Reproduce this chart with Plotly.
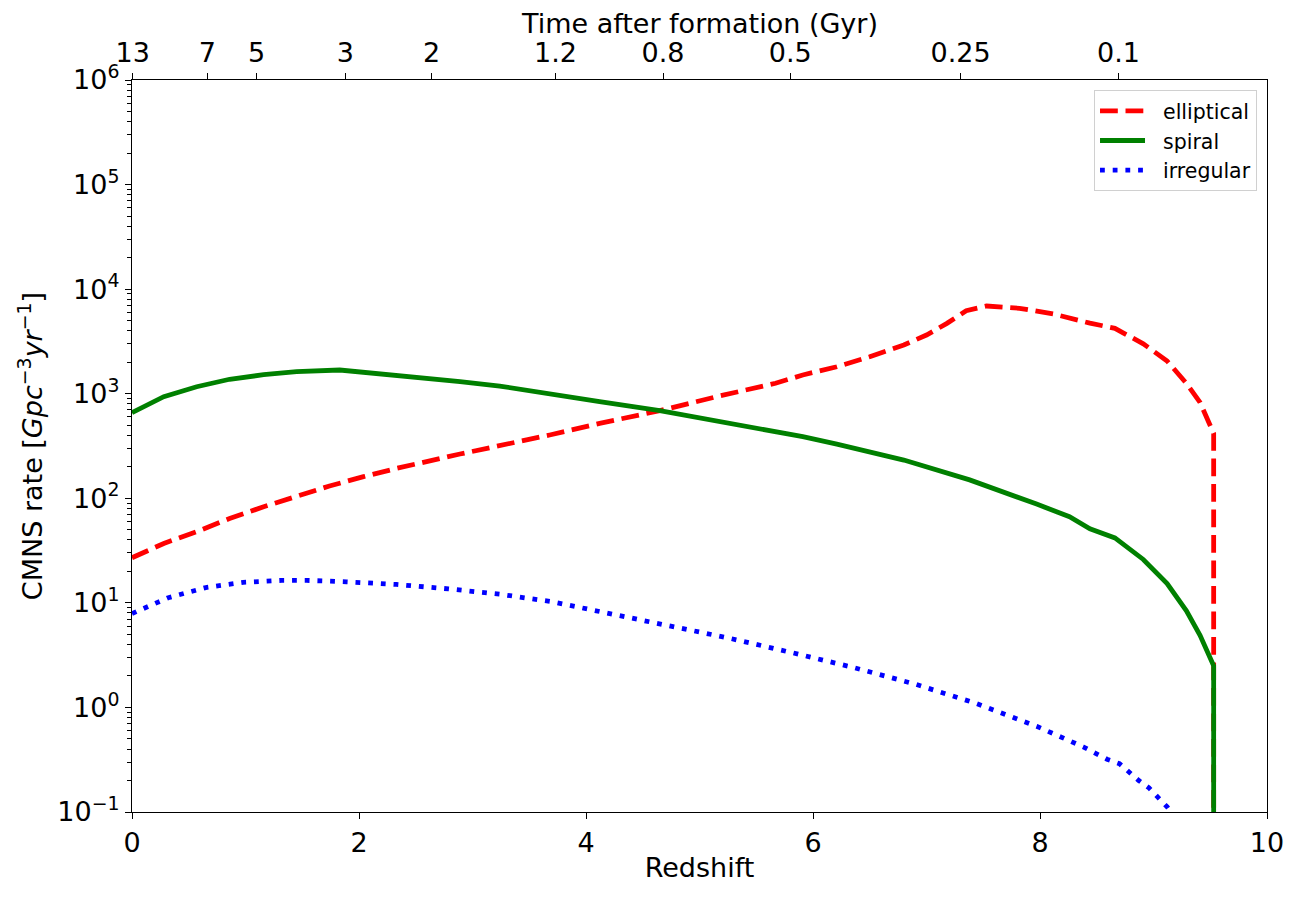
import plotly.graph_objects as go

# ---- data ----
z_elliptical = [0, 0.28, 0.57, 0.86, 1.16, 1.45, 1.74, 2.04, 2.33, 2.89, 3.24, 3.68, 4.12,
                4.65, 5.15, 5.67, 5.91, 6.21, 6.50, 6.80, 7.00, 7.18, 7.35, 7.53, 7.82,
                8.12, 8.44, 8.66, 8.91, 9.12, 9.29, 9.41, 9.53, 9.53]
rate_elliptical = [27, 37, 48, 64, 83, 105, 131, 161, 193, 265, 316, 403, 521,
                   688, 937, 1260, 1510, 1812, 2259, 2923, 3640, 4710, 6220, 6900, 6560,
                   5780, 4730, 4220, 3000, 2055, 1255, 826, 417, 1e-3]

z_spiral = [0, 0.28, 0.57, 0.86, 1.16, 1.45, 1.83, 2.33, 2.89, 3.24, 3.68, 4.12, 4.65,
            5.15, 5.62, 5.91, 6.21, 6.50, 6.80, 7.38, 7.68, 7.97, 8.26, 8.44, 8.66,
            8.91, 9.12, 9.29, 9.41, 9.53, 9.53]
rate_spiral = [659, 937, 1167, 1374, 1520, 1625, 1686, 1510, 1303, 1185, 1009, 839, 688,
               548, 450, 388, 330, 279, 232, 150, 116, 88, 66.7, 51, 41.8,
               26, 15.3, 8.4, 4.9, 2.5, 1e-3]

z_irregular = [0, 0.32, 0.65, 0.98, 1.32, 1.54, 1.89, 2.33, 2.79, 3.24, 3.69, 4.14, 4.69,
               5.26, 5.80, 6.35, 6.90, 7.44, 7.97, 8.38, 8.59, 8.70, 8.87, 8.96, 9.12,
               9.30, 9.53]
rate_irregular = [7.9, 11.2, 14.0, 15.7, 16.4, 16.4, 15.9, 15.0, 13.6, 12.1, 10.3, 8.2, 6.2,
                  4.6, 3.37, 2.42, 1.67, 1.09, 0.66, 0.42, 0.32, 0.29, 0.20, 0.17, 0.112,
                  0.06, 0.03]

top_tick_z = [0.006, 0.663, 1.098, 1.880, 2.640, 3.732, 4.679, 5.800, 7.301, 8.692]
top_tick_labels = ["13", "7", "5", "3", "2", "1.2", "0.8", "0.5", "0.25", "0.1"]

y_exponents = [-1, 0, 1, 2, 3, 4, 5, 6]

# ---- figure ----
FONT = "DejaVu Sans"
LW = 4.8
PLOT_H = 732
GAP = "\u00a0\u00a0"

fig = go.Figure()
fig.add_trace(go.Scatter(x=z_elliptical, y=rate_elliptical, mode="lines", name=GAP + "elliptical",
                         line=dict(color="#ff0000", width=LW, dash="17.8px,7.7px")))
fig.add_trace(go.Scatter(x=z_spiral, y=rate_spiral, mode="lines", name=GAP + "spiral",
                         line=dict(color="#008000", width=LW)))
fig.add_trace(go.Scatter(x=z_irregular, y=rate_irregular, mode="lines", name=GAP + "irregular",
                         line=dict(color="#0000ff", width=LW, dash="4.8px,7.9px")))
fig.add_trace(go.Scatter(x=[], y=[], xaxis="x2", yaxis="y", showlegend=False, hoverinfo="skip"))

major_vals = [10.0 ** e for e in y_exponents]
major_text = ["10<sup>%s</sup>" % (str(e).replace("-", "−")) for e in y_exponents]
minor_vals = [m * 10.0 ** e for e in y_exponents[:-1] for m in range(2, 10)]

tickfont = dict(family=FONT, size=27, color="black")

fig.update_layout(
    width=1300, height=898,
    margin=dict(l=124, r=41, t=72, b=94),
    paper_bgcolor="white", plot_bgcolor="white",
    font=dict(family=FONT, color="black"),
    showlegend=True,
    legend=dict(x=0.9912, y=0.9863, xanchor="right", yanchor="top",
                bgcolor="rgba(255,255,255,0.8)", bordercolor="#d0d0d0", borderwidth=1,
                font=dict(family=FONT, size=20.5, color="black"),
                itemwidth=45, tracegroupgap=0),
    xaxis=dict(range=[0, 10], dtick=2, tick0=0, ticks="outside", ticklen=6, tickwidth=1.2,
               tickcolor="black", showline=True, linecolor="black", linewidth=1.2,
               mirror=True, showgrid=False, zeroline=False, tickfont=tickfont,
               automargin=False,
               title=dict(text="Redshift", font=dict(family=FONT, size=27), standoff=1)),
    xaxis2=dict(range=[0, 10], overlaying="x", side="top", anchor="y",
                tickmode="array", tickvals=top_tick_z, ticktext=top_tick_labels,
                ticks="outside", ticklen=6, tickwidth=1.2, tickcolor="black",
                showline=False, showgrid=False, zeroline=False, tickfont=tickfont,
                automargin=False),
    yaxis=dict(type="log", range=[-1, 6], tickmode="array", tickvals=major_vals,
               ticktext=major_text, ticks="outside", ticklen=6, tickwidth=1.2,
               tickcolor="black", showline=True, linecolor="black", linewidth=1.2,
               mirror=True, showgrid=False, zeroline=False, tickfont=tickfont,
               automargin=False,
               minor=dict(tickmode="array", tickvals=minor_vals, ticks="outside",
                          ticklen=3.5, tickwidth=1, tickcolor="black", showgrid=False),
               title=dict(text="CMNS rate [<i>Gpc</i><sup>−3</sup><i>yr</i><sup>−1</sup>]",
                          font=dict(family=FONT, size=27), standoff=6)),
    annotations=[dict(text="Time after formation (Gyr)", xref="paper", yref="paper",
                      x=0.5, y=1 + 56 / PLOT_H, xanchor="center", yanchor="middle",
                      showarrow=False, font=dict(family=FONT, size=27, color="black"))],
)

fig.write_html("out.html")
